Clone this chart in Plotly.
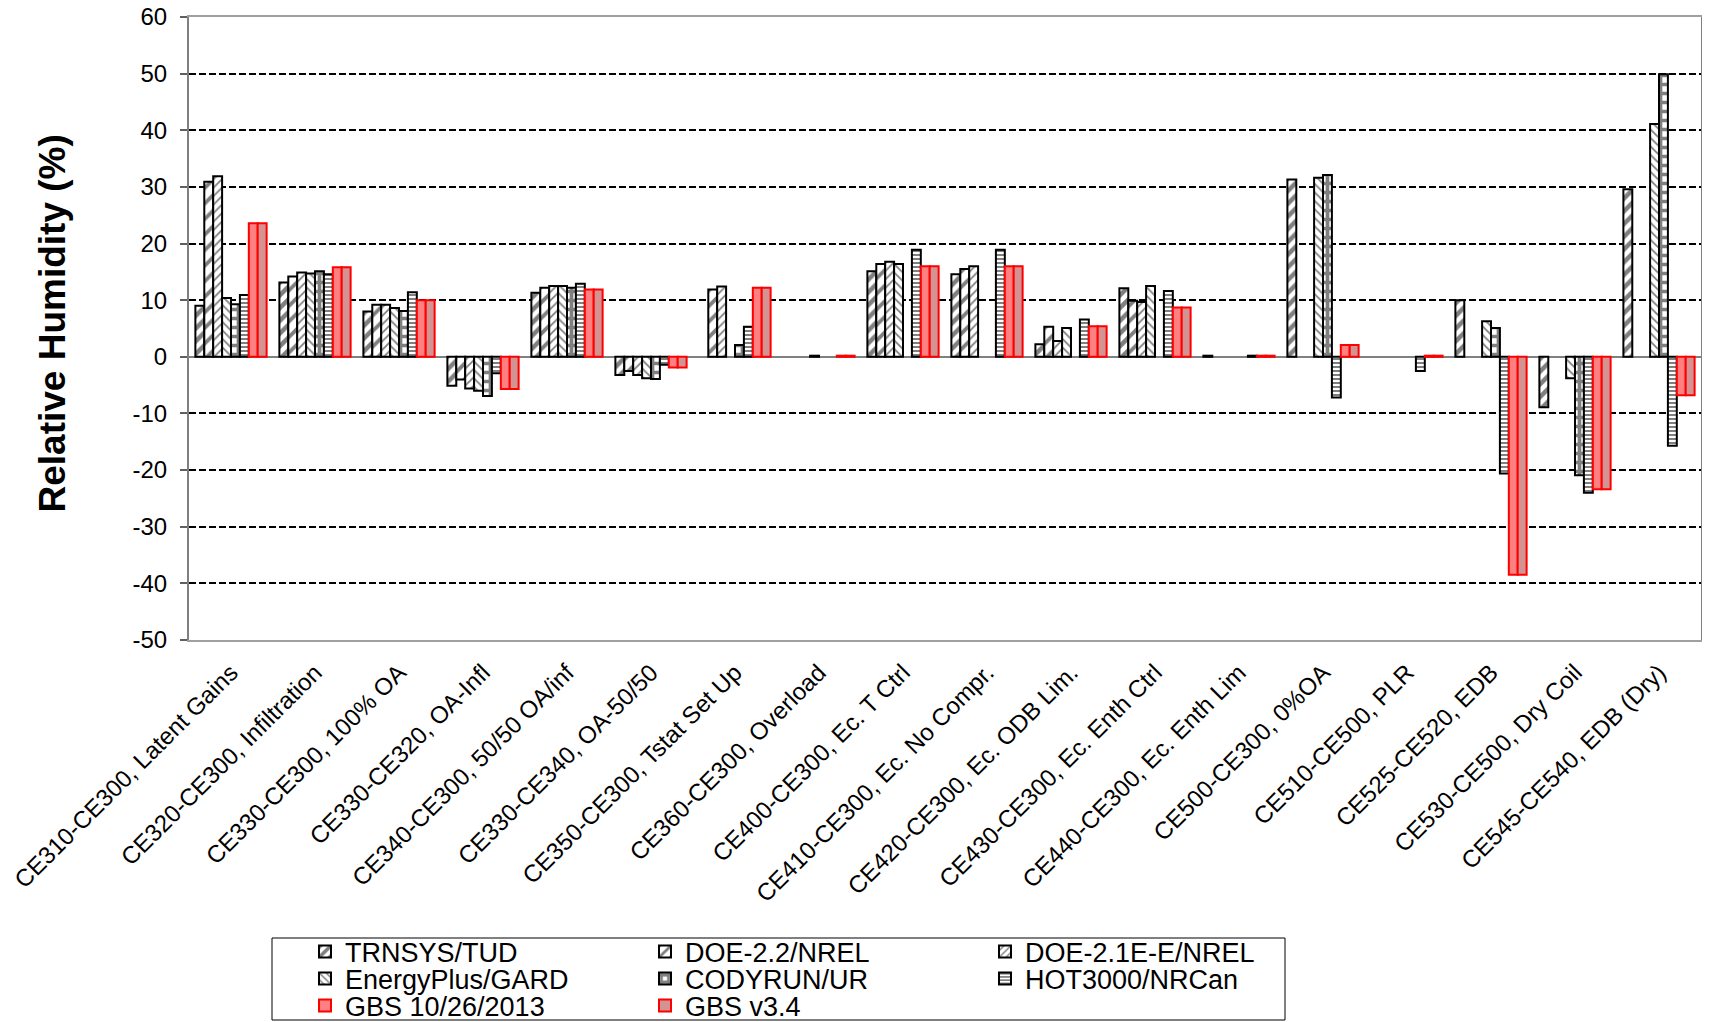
import plotly.graph_objects as go

categories = [
    "CE310-CE300, Latent Gains",
    "CE320-CE300, Infiltration",
    "CE330-CE300, 100% OA",
    "CE330-CE320, OA-Infl",
    "CE340-CE300, 50/50 OA/inf",
    "CE330-CE340, OA-50/50",
    "CE350-CE300, Tstat Set Up",
    "CE360-CE300, Overload",
    "CE400-CE300, Ec. T Ctrl",
    "CE410-CE300, Ec. No Compr.",
    "CE420-CE300, Ec. ODB Lim.",
    "CE430-CE300, Ec. Enth Ctrl",
    "CE440-CE300, Ec. Enth Lim",
    "CE500-CE300, 0%OA",
    "CE510-CE500, PLR",
    "CE525-CE520, EDB",
    "CE530-CE500, Dry Coil",
    "CE545-CE540, EDB (Dry)",
]

trnsys_tud = [9.0, 13.1, 8.0, -5.1, 11.3, -3.2, None, None, 15.1, 14.6, 2.2, 12.1, 0.2, 31.3, None, 10.0, -8.9, 29.6]
doe22_nrel = [30.9, 14.2, 9.2, -4.0, 12.2, -2.5, 11.9, None, 16.4, 15.5, 5.3, 9.9, None, None, None, None, None, None]
doe21e_nrel = [31.9, 14.9, 9.2, -5.6, 12.5, -3.2, 12.4, None, 16.8, 16.0, 2.8, 9.7, None, None, None, None, None, None]
energyplus_gard = [10.4, 14.7, 8.6, -6.0, 12.5, -3.8, None, 0.2, 16.4, None, 5.1, 12.5, None, 31.6, None, 6.3, -3.8, 41.1]
codyrun_ur = [9.3, 15.1, 8.1, -6.9, 12.2, -3.9, 2.1, None, None, None, None, None, None, 32.1, None, 5.1, -20.9, 49.9]
hot3000_nrcan = [10.9, 14.6, 11.4, -2.9, 12.9, -1.4, 5.3, None, 18.9, 18.9, 6.6, 11.6, 0.2, -7.2, -2.5, -20.6, -24.0, -15.7]
gbs_20131026 = [23.6, 15.8, 10.0, -5.7, 11.9, -1.9, 12.2, 0.2, 16.0, 16.0, 5.4, 8.7, 0.2, 2.1, 0.2, -38.5, -23.4, -6.8]
gbs_v34 = [23.6, 15.8, 10.0, -5.7, 11.9, -1.9, 12.2, 0.2, 16.0, 16.0, 5.4, 8.7, 0.2, 2.1, 0.2, -38.5, -23.4, -6.8]

y_ticks = [-50, -40, -30, -20, -10, 0, 10, 20, 30, 40, 50, 60]

FONT = "Liberation Sans, Arial, sans-serif"

series = [
    ("TRNSYS/TUD", trnsys_tud, dict(shape="/", size=9, solidity=0.5, fgcolor="black", bgcolor="white"), "legend"),
    ("DOE-2.2/NREL", doe22_nrel, dict(shape="/", size=11, solidity=0.35, fgcolor="black", bgcolor="white"), "legend"),
    ("DOE-2.1E-E/NREL", doe21e_nrel, dict(shape="/", size=6, solidity=0.3, fgcolor="black", bgcolor="white"), "legend"),
    ("EnergyPlus/GARD", energyplus_gard, dict(shape="\\", size=6, solidity=0.3, fgcolor="black", bgcolor="white"), "legend2"),
    ("CODYRUN/UR", codyrun_ur, dict(shape="+", size=9, solidity=0.65, fgcolor="black", bgcolor="white"), "legend2"),
    ("HOT3000/NRCan", hot3000_nrcan, dict(shape="-", size=4, solidity=0.5, fgcolor="black", bgcolor="white"), "legend2"),
]

fig = go.Figure()
for name, vals, pat, lg in series:
    fig.add_trace(go.Bar(
        name=name, x=categories, y=vals,
        marker=dict(color="white", pattern=pat, line=dict(color="black", width=2)),
        legend=lg,
    ))

fig.add_trace(go.Bar(
    name="GBS 10/26/2013", x=categories, y=gbs_20131026,
    marker=dict(color="#FF8080", line=dict(color="#FF0000", width=2)),
    legend="legend3",
))
fig.add_trace(go.Bar(
    name="GBS v3.4", x=categories, y=gbs_v34,
    marker=dict(color="#D39393", line=dict(color="#FF0000", width=2)),
    legend="legend3",
))

# the page body has an 8px margin: work in page pixels, convert to figure pixels
OFF = 8
P_L, P_R, P_T, P_B = 189 - OFF, 1701 - OFF, 17 - OFF, 640 - OFF
W, H = 1710 - OFF, 1022 - OFF
pw, ph = P_R - P_L, P_B - P_T


def px_x(x):
    return (x - OFF - P_L) / pw


def px_y(y):
    return (P_B - (y - OFF)) / ph


legend_common = dict(
    orientation="h", xanchor="left", yanchor="middle",
    font=dict(family=FONT, size=27, color="black"),
    entrywidth=295, entrywidthmode="pixels",
    bgcolor="rgba(0,0,0,0)", borderwidth=0,
    itemclick=False, itemdoubleclick=False,
)

fig.update_layout(
    width=W, height=H,
    margin=dict(l=P_L, r=W - P_R, t=P_T, b=H - P_B, autoexpand=False),
    paper_bgcolor="white", plot_bgcolor="white",
    barmode="group", bargap=0.152, bargroupgap=0,
    font=dict(family=FONT, color="black"),
    showlegend=True,
    legend=dict(x=px_x(305), y=px_y(952), **legend_common),
    legend2=dict(x=px_x(305), y=px_y(979), **legend_common),
    legend3=dict(x=px_x(305), y=px_y(1006), **legend_common),
    xaxis=dict(
        type="category", tickangle=-45,
        tickfont=dict(family=FONT, size=24, color="black"),
        ticklabelstandoff=7,
        showline=True, linecolor="#A0A0A0", linewidth=2, mirror=True,
        showgrid=False, ticks="", automargin=False,
    ),
    yaxis=dict(
        range=[-50, 60], tickvals=y_ticks, ticktext=[str(v) for v in y_ticks],
        tickfont=dict(family=FONT, size=24, color="black"),
        ticks="outside", ticklen=7, tickwidth=1.5, tickcolor="#606060",
        ticklabelstandoff=8, ticklabeloverflow="allow",
        showline=True, linecolor="#808080", linewidth=2, mirror=True,
        showgrid=True, gridcolor="black", gridwidth=2, griddash="7px,3px",
        zeroline=True, zerolinecolor="#808080", zerolinewidth=1.5,
        title=dict(text="<b>\u00a0Relative Humidity (%)</b>", font=dict(family=FONT, size=37, color="black"), standoff=56),
        automargin=False,
    ),
    shapes=[dict(
        type="rect", xref="paper", yref="paper",
        x0=px_x(272), x1=px_x(1285), y0=px_y(1020), y1=px_y(938),
        line=dict(color="black", width=1), fillcolor="rgba(0,0,0,0)", layer="below",
    )],
)

fig.write_html("out.html")
